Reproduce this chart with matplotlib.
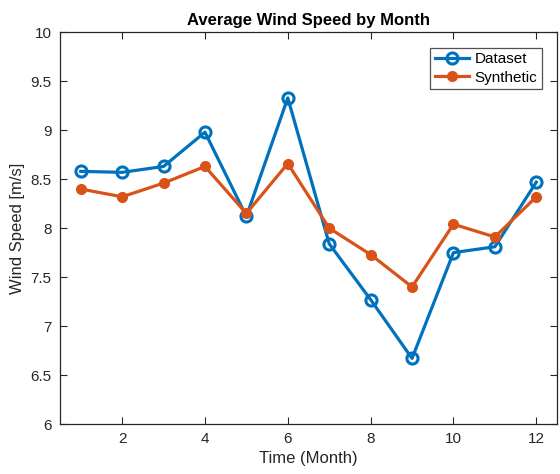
import matplotlib
matplotlib.use('Agg')
import matplotlib.pyplot as plt

plt.rcParams['font.family'] = ['Liberation Sans', 'DejaVu Sans']

# monthly averages
months = [1, 2, 3, 4, 5, 6, 7, 8, 9, 10, 11, 12]
dataset = [8.58, 8.57, 8.63, 8.98, 8.12, 9.33, 7.84, 7.27, 6.67, 7.75, 7.81, 8.47]
synthetic = [8.40, 8.32, 8.46, 8.63, 8.15, 8.66, 8.00, 7.73, 7.40, 8.04, 7.91, 8.32]

xticks = [2, 4, 6, 8, 10, 12]
yticks = [6, 6.5, 7, 7.5, 8, 8.5, 9, 9.5, 10]
ytick_labels = ['6', '6.5', '7', '7.5', '8', '8.5', '9', '9.5', '10']

blue = '#0072BD'
orange = '#D95319'
axcol = '#262626'

fig = plt.figure(figsize=(5.6, 4.74), dpi=100)
ax = fig.add_axes([60/560, 1 - 424/474, 497/560, (424 - 32.3)/474])

ax.plot(months, dataset, '-o', color=blue, lw=2.3, ms=8, mew=2.2,
        mfc='none', label='Dataset')
ax.plot(months, synthetic, '-o', color=orange, lw=2.3, ms=7, mew=1,
        mfc=orange, label='Synthetic')

ax.set_xlim(0.5, 12.5)
ax.set_ylim(6, 10)
ax.set_xticks(xticks)
ax.set_yticks(yticks)
ax.set_yticklabels(ytick_labels)
ax.tick_params(direction='in', length=5, width=0.8, top=True, right=True,
               labelsize=11, colors=axcol, pad=6)
for s in ax.spines.values():
    s.set_color(axcol)
    s.set_linewidth(0.9)

ax.set_title('Average Wind Speed by Month', fontsize=12, fontweight='bold', pad=5)
ax.set_xlabel('Time (Month)', fontsize=12, color=axcol, labelpad=3)
ax.set_ylabel('Wind Speed [m/s]', fontsize=12, color=axcol, labelpad=4)

leg = ax.legend(loc='upper right', bbox_to_anchor=(0.970, 0.961), fontsize=11,
                frameon=True, fancybox=False, handlelength=2.2,
                borderpad=0.3, labelspacing=0.3, handletextpad=0.4,
                borderaxespad=0)
leg.get_frame().set_edgecolor(axcol)
leg.get_frame().set_linewidth(0.9)

fig.savefig('out.png', dpi=100)
